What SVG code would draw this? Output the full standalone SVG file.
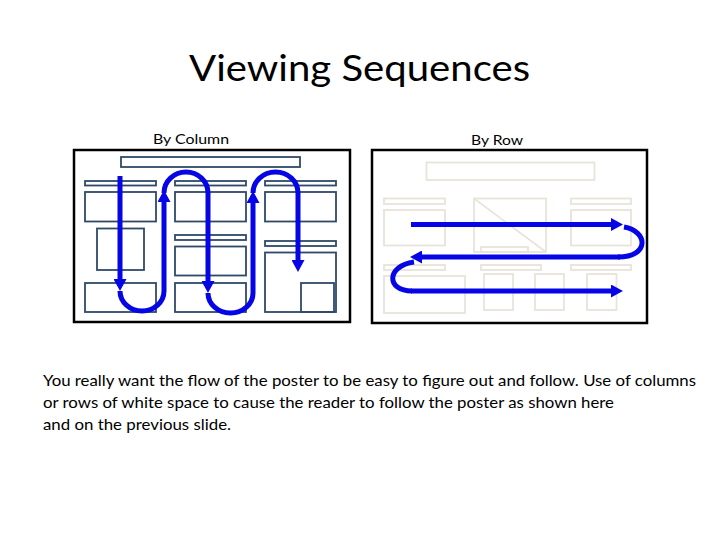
<svg xmlns="http://www.w3.org/2000/svg" width="720" height="540" viewBox="0 0 720 540">
<defs>
<style>
.title{font-family:"Lato","Liberation Sans",sans-serif;font-size:36px;fill:#000}
.lbl{font-family:"Lato","Liberation Sans",sans-serif;font-size:14px;fill:#000}
.body{font-family:"Lato","Liberation Sans",sans-serif;font-size:16px;fill:#000}
.frame{fill:#fff;stroke:#000;stroke-width:2.5}
.blk{fill:none;stroke:#2e4a68;stroke-width:1.8}
.pale{fill:none;stroke:#e8e4da;stroke-width:1.8}
.flow{fill:none;stroke:#0505e6;stroke-width:5}
</style>
<marker id="ah" viewBox="0 0 12 13" refX="0" refY="6.5" markerWidth="12" markerHeight="13" markerUnits="userSpaceOnUse" orient="auto">
<path d="M0,0 L12,6.5 L0,13 z" fill="#0505e6"/>
</marker>
</defs>
<rect width="720" height="540" fill="#fff"/>
<text class="title" x="359.5" y="81" text-anchor="middle" textLength="341" lengthAdjust="spacingAndGlyphs">Viewing Sequences</text>

<g id="by-column">
<text class="lbl" x="153" y="144" textLength="76" lengthAdjust="spacingAndGlyphs">By Column</text>
<rect class="frame" x="74" y="150" width="276" height="172"/>
<rect class="blk" x="121" y="157" width="179" height="10"/>
<rect class="blk" x="85" y="181" width="71" height="4.5"/>
<rect class="blk" x="175" y="181" width="71" height="4.5"/>
<rect class="blk" x="265" y="181" width="71" height="4.5"/>
<rect class="blk" x="85" y="192" width="71" height="29.5"/>
<rect class="blk" x="175" y="192" width="71" height="29.5"/>
<rect class="blk" x="265" y="192" width="71" height="29.5"/>
<rect class="blk" x="97" y="228.5" width="47" height="41.5"/>
<rect class="blk" x="85" y="283" width="71" height="29"/>
<rect class="blk" x="175" y="235" width="71" height="5"/>
<rect class="blk" x="175" y="246.5" width="71" height="29"/>
<rect class="blk" x="175" y="283" width="71" height="29"/>
<rect class="blk" x="265" y="241" width="71" height="5"/>
<rect class="blk" x="265" y="252.5" width="71" height="59.5"/>
<rect class="blk" x="301" y="283" width="33" height="29"/>
</g>

<g id="by-row">
<text class="lbl" x="471" y="145" textLength="52" lengthAdjust="spacingAndGlyphs">By Row</text>
<rect class="frame" x="372" y="150" width="275" height="173"/>
<rect class="pale" x="426.5" y="162.5" width="168" height="17.5"/>
<rect class="pale" x="384" y="198.5" width="61" height="5.5"/>
<rect class="pale" x="384" y="210" width="61" height="35.5"/>
<rect class="pale" x="474" y="198.5" width="72" height="53.5"/>
<line class="pale" x1="474" y1="198.5" x2="546" y2="252"/>
<rect class="pale" x="481" y="247" width="47" height="5"/>
<rect class="pale" x="571" y="198.5" width="60" height="5.5"/>
<rect class="pale" x="571" y="210" width="60" height="35.5"/>
<rect class="pale" x="384" y="265" width="61" height="5"/>
<rect class="pale" x="384" y="276" width="81" height="37"/>
<rect class="pale" x="481" y="265" width="60" height="5"/>
<rect class="pale" x="571" y="265" width="60" height="5"/>
<rect class="pale" x="484" y="274" width="29" height="36"/>
<rect class="pale" x="535" y="274" width="29" height="36"/>
<rect class="pale" x="587" y="274" width="29.5" height="36"/>
</g>

<g id="connectors">
<path class="flow" d="M120,176 V279" marker-end="url(#ah)"/>
<path class="flow" d="M120,291 A22,20 0 0 0 164,291"/>
<path class="flow" d="M164,291 V202" marker-end="url(#ah)"/>
<path class="flow" d="M164,193 A22,21 0 0 1 208,193"/>
<path class="flow" d="M208,193 V281" marker-end="url(#ah)"/>
<path class="flow" d="M208,293 A22.5,20 0 0 0 253,293"/>
<path class="flow" d="M253,293 V203" marker-end="url(#ah)"/>
<path class="flow" d="M253,193 A22.5,21 0 0 1 298,193"/>
<path class="flow" d="M298,193 V260" marker-end="url(#ah)"/>

<path class="flow" d="M411,224.5 H611" marker-end="url(#ah)"/>
<path class="flow" d="M624,227 C648,231 650,257 618,257"/>
<path class="flow" d="M620,257 H422" marker-end="url(#ah)"/>
<path class="flow" d="M414,262 C386,266 386,291 412,291"/>
<path class="flow" d="M411,291 H611" marker-end="url(#ah)"/>
</g>

<g id="caption">
<text class="body" x="43" y="386" textLength="653" lengthAdjust="spacingAndGlyphs">You really want the flow of the poster to be easy to figure out and follow. Use of columns</text>
<text class="body" x="43" y="408" textLength="571" lengthAdjust="spacingAndGlyphs">or rows of white space to cause the reader to follow the poster as shown here</text>
<text class="body" x="43" y="430" textLength="188" lengthAdjust="spacingAndGlyphs">and on the previous slide.</text>
</g>
</svg>
